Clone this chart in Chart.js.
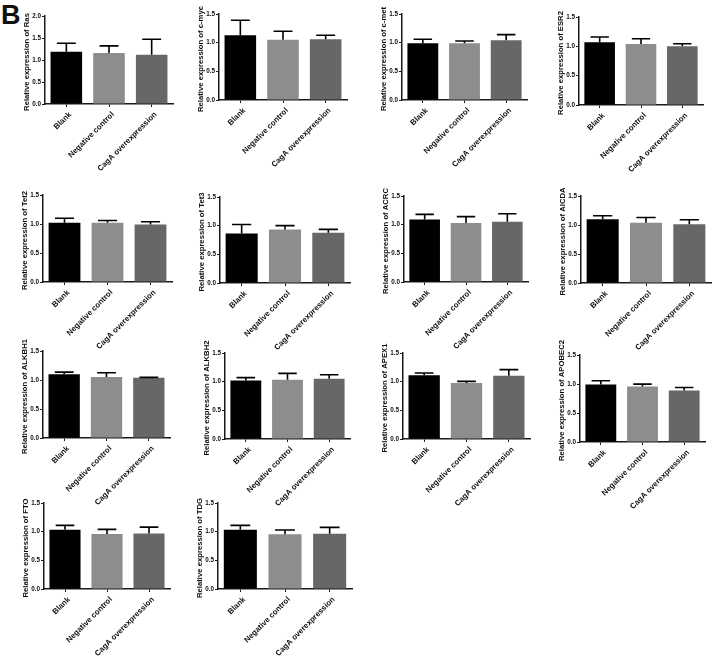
<!DOCTYPE html>
<html>
<head>
<meta charset="utf-8">
<script src="https://cdn.jsdelivr.net/npm/chart.js@4.4.1/dist/chart.umd.min.js"></script>
<style>
body { margin: 0; background: #fff; width: 716px; height: 658px; position: relative; overflow: hidden; }
canvas { position: absolute; }
#tag { position: absolute; left: 1px; top: 0px; font: bold 27px "Liberation Sans", Arial, sans-serif; color: #111; }
</style>
</head>
<body>
<div id="tag">B</div>
<script>
// data
const genes = ['Ras', 'c-myc', 'c-met', 'ESR2', 'Tet2', 'Tet3', 'ACRC', 'AICDA',
               'ALKBH1', 'ALKBH2', 'APEX1', 'APOBEC2', 'FTO', 'TDG'];
const groups = ['Blank', 'Negative control', 'CagA overexpression'];
const yMaxes = [2.0, 1.5, 1.5, 1.5, 1.5, 1.5, 1.5, 1.5, 1.5, 1.5, 1.5, 1.5, 1.5, 1.5];

const blankMeans = [1.19, 1.13, 0.99, 1.07, 1.02, 0.865, 1.09, 1.10, 1.10, 1.02, 1.11, 0.99, 1.035, 1.035];
const blankSD    = [0.19, 0.26, 0.07, 0.09, 0.08, 0.155, 0.09, 0.06, 0.035, 0.05, 0.04, 0.065, 0.075, 0.075];
const negMeans   = [1.16, 1.05, 0.99, 1.04, 1.02, 0.935, 1.03, 1.04, 1.05, 1.035, 0.975, 0.955, 0.96, 0.955];
const negSD      = [0.16, 0.15, 0.04, 0.09, 0.04, 0.065, 0.11, 0.09, 0.075, 0.11, 0.03, 0.042, 0.08, 0.075];
const cagaMeans  = [1.12, 1.06, 1.04, 1.00, 0.99, 0.875, 1.05, 1.015, 1.04, 1.05, 1.105, 0.888, 0.97, 0.965];
const cagaSD     = [0.35, 0.07, 0.10, 0.045, 0.05, 0.06, 0.14, 0.075, 0.005, 0.07, 0.105, 0.052, 0.11, 0.11];

// plot area of each panel on the page: left, top, bottom, right
const panelBoxes = [
    [44.5, 15.7, 103.7, 172], [219, 14.3, 100.3, 347], [402, 14.3, 100.3, 527], [579, 16.7, 104.3, 703],
    [42.7, 195, 282, 172], [220, 197, 282.7, 350], [404, 196.3, 282.3, 528], [581, 196, 282.7, 711],
    [42.7, 350.7, 437.3, 170], [225, 353.3, 439.7, 350], [403.3, 353.3, 439.3, 530], [580, 354.7, 441.3, 705],
    [44.3, 503.3, 589.7, 170], [218.3, 503.3, 589.7, 352]
];

const FONT = '"Liberation Sans", Arial, sans-serif';
const TEXT = '#0d0d0d';
const AXIS = '#1a1a1a';
const Y_AXIS_W = 25;
const X_AXIS_H = 78;
const PAD_TOP = 20;
const PAD_RIGHT = 3;
const TITLE_OFFSET = 18.5;

// upper error bars (mean + SD) drawn through the y scale, plus the y title
const errorBars = {
    id: 'errorBars',
    afterDatasetsDraw(chart) {
        const ctx = chart.ctx;
        const yScale = chart.scales.y;
        const ds = chart.data.datasets[0];
        const meta = chart.getDatasetMeta(0);
        ctx.save();
        ctx.strokeStyle = '#000';
        ctx.lineWidth = 1.6;
        meta.data.forEach((bar, i) => {
            const base = yScale.getPixelForValue(ds.data[i]);
            const top = yScale.getPixelForValue(ds.data[i] + ds.sd[i]);
            const half = bar.width * 0.3;
            ctx.beginPath();
            ctx.moveTo(bar.x, base);
            ctx.lineTo(bar.x, top);
            ctx.moveTo(bar.x - half, top);
            ctx.lineTo(bar.x + half, top);
            ctx.stroke();
        });
        ctx.restore();

        // y axis title, not squeezed to the axis height
        const area = chart.chartArea;
        ctx.save();
        ctx.translate(area.left - TITLE_OFFSET, (area.top + area.bottom) / 2 + 2);
        ctx.rotate(-Math.PI / 2);
        ctx.fillStyle = TEXT;
        ctx.font = 'bold 7.7px ' + FONT;
        ctx.textAlign = 'center';
        ctx.textBaseline = 'middle';
        ctx.fillText(chart.options.yTitle, 0, 0);
        ctx.restore();
    }
};

genes.forEach((gene, k) => {
    const [L, T, B, R] = panelBoxes[k];
    const canvas = document.createElement('canvas');
    canvas.width = Math.round(R - L) + Y_AXIS_W + PAD_RIGHT;
    canvas.height = Math.round(B - T) + PAD_TOP + X_AXIS_H;
    canvas.style.left = Math.round(L - Y_AXIS_W) + 'px';
    canvas.style.top = Math.round(T - PAD_TOP) + 'px';
    document.body.appendChild(canvas);

    new Chart(canvas.getContext('2d'), {
        type: 'bar',
        data: {
            labels: groups,
            datasets: [{
                data: [blankMeans[k], negMeans[k], cagaMeans[k]],
                sd: [blankSD[k], negSD[k], cagaSD[k]],
                backgroundColor: ['#000000', '#8d8d8d', '#676767'],
                borderWidth: 0,
                barPercentage: 0.74,
                categoryPercentage: 1.0
            }]
        },
        options: {
            responsive: false,
            animation: false,
            devicePixelRatio: 1,
            yTitle: 'Relative expression of ' + gene,
            layout: { padding: { top: PAD_TOP, right: PAD_RIGHT, left: 0, bottom: 0 } },
            plugins: {
                legend: { display: false },
                tooltip: { enabled: false }
            },
            scales: {
                x: {
                    grid: { display: true, drawOnChartArea: false, offset: false, tickLength: 3, color: AXIS },
                    border: { display: true, color: AXIS, width: 1.5 },
                    ticks: {
                        autoSkip: false,
                        maxRotation: 45,
                        minRotation: 45,
                        padding: 3,
                        labelOffset: 4,
                        color: TEXT,
                        font: { family: FONT, size: 7.8, weight: 'bold' }
                    },
                    afterFit: function(scale) { scale.height = X_AXIS_H; }
                },
                y: {
                    min: 0,
                    max: yMaxes[k],
                    grid: { display: true, drawOnChartArea: false, tickLength: 3, color: AXIS },
                    border: { display: true, color: AXIS, width: 1.5 },
                    ticks: {
                        stepSize: 0.5,
                        padding: 1,
                        color: TEXT,
                        font: { family: FONT, size: 6.3, weight: 'bold' },
                        callback: function(value) { return value.toFixed(1); }
                    },
                    afterFit: function(scale) { scale.width = Y_AXIS_W; }
                }
            }
        },
        plugins: [errorBars]
    });
});
</script>
</body>
</html>
